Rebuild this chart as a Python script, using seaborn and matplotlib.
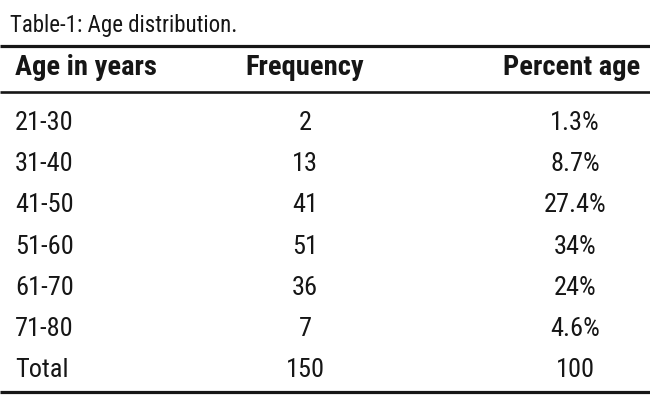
import seaborn as sns
import matplotlib.pyplot as plt

# Table contents
title = "Table-1: Age distribution."
headers = ["Age in years", "Frequency", "Percent age"]
age_groups = ["21-30", "31-40", "41-50", "51-60", "61-70", "71-80", "Total"]
frequency = ["2", "13", "41", "51", "36", "7", "150"]
percentage = ["1.3%", "8.7%", "27.4%", "34%", "24%", "4.6%", "100"]

sns.set_theme(style="white")
plt.rcParams['font.family'] = ['Roboto Condensed', 'Lato', 'DejaVu Sans']

fig = plt.figure(figsize=(6.5, 4.05), dpi=100)
ax = fig.add_axes([0, 0, 1, 1])
ax.set_xlim(0, 650)
ax.set_ylim(405, 0)
ax.axis('off')

ink = '#161616'

# caption
ax.text(10, 32, title, fontsize=16.5, color=ink, va='baseline', ha='left')

# horizontal rules
ax.plot([0, 650], [46, 46], color=ink, lw=2.3, solid_capstyle='butt')
ax.plot([0, 650], [91.5, 91.5], color=ink, lw=1.9, solid_capstyle='butt')
ax.plot([0, 650], [392, 392], color=ink, lw=2.3, solid_capstyle='butt')

# header row
hfs = 20.5
ax.text(15, 75, headers[0], fontsize=hfs, fontweight='bold', color=ink, va='baseline', ha='left')
ax.text(305, 75, headers[1], fontsize=hfs, fontweight='bold', color=ink, va='baseline', ha='center')
ax.text(640, 75, headers[2], fontsize=hfs, fontweight='bold', color=ink, va='baseline', ha='right')

# body rows
bfs = 19
first_baseline = 130
row_step = 41.2
for i, (age, freq, pct) in enumerate(zip(age_groups, frequency, percentage)):
    y = first_baseline + i * row_step
    ax.text(15, y, age, fontsize=bfs, color=ink, va='baseline', ha='left')
    ax.text(305, y, freq, fontsize=bfs, color=ink, va='baseline', ha='center')
    ax.text(575, y, pct, fontsize=bfs, color=ink, va='baseline', ha='center')

fig.savefig("out.png", dpi=100, facecolor='white')
